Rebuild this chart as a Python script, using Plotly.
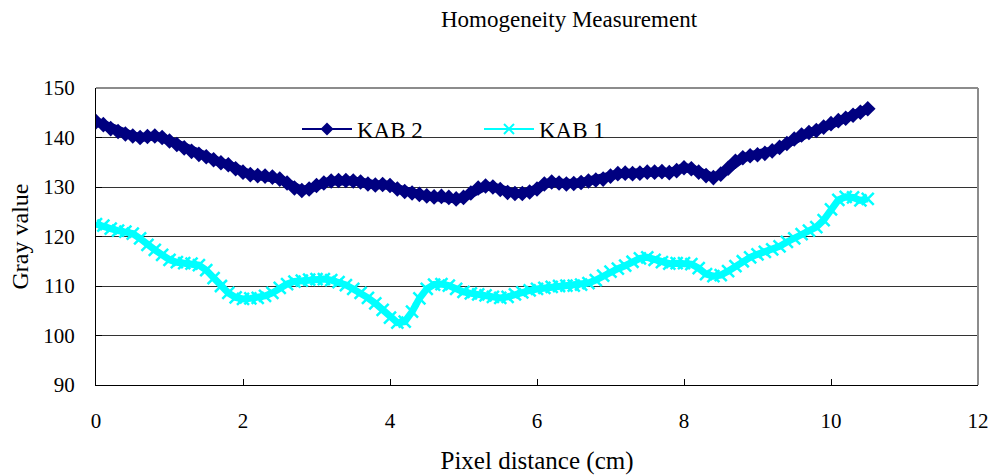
import plotly.graph_objects as go

x_cm = [round(i * 0.1, 1) for i in range(106)]

kab2 = [143.2, 142.6, 141.8, 141.2, 140.7, 140.3, 140.0, 140.2, 140.3, 140.0,
        139.3, 138.6, 137.9, 137.2, 136.6, 136.1, 135.5, 134.9, 134.5, 133.7,
        133.0, 132.5, 132.3, 132.2, 132.0, 131.6, 130.8, 129.8, 129.3, 129.6,
        130.3, 130.8, 131.2, 131.3, 131.3, 131.2, 131.0, 130.6, 130.4, 130.5,
        130.3, 129.6, 129.1, 128.8, 128.5, 128.2, 128.0, 128.1, 127.9, 127.6,
        127.9, 128.8, 129.8, 130.2, 130.0, 129.5, 128.9, 128.7, 128.7, 129.0,
        129.6, 130.6, 131.0, 130.8, 130.6, 130.7, 130.9, 131.2, 131.4, 131.6,
        132.2, 132.7, 132.8, 132.7, 132.8, 133.0, 133.0, 133.1, 132.9, 133.3,
        133.9, 133.7, 133.0, 132.3, 131.9, 132.6, 133.8, 135.2, 135.9, 136.3,
        136.5, 136.8, 137.3, 138.0, 138.8, 139.7, 140.5, 141.0, 141.4, 142.1,
        142.8, 143.4, 143.9, 144.5, 145.1, 145.8]

kab1 = [122.5, 122.2, 121.6, 121.2, 121.0, 120.6, 119.6, 118.3, 117.3, 116.3,
        115.3, 114.8, 114.6, 114.5, 114.2, 113.2, 111.6, 110.0, 108.6, 107.7,
        107.4, 107.5, 107.6, 108.0, 108.6, 109.6, 110.4, 110.9, 111.1, 111.3,
        111.4, 111.4, 111.2, 110.8, 110.2, 109.4, 108.6, 107.6, 106.5, 105.2,
        103.6, 102.6, 102.8, 104.8, 107.5, 109.4, 110.3, 110.4, 110.1, 109.4,
        108.8, 108.5, 108.3, 108.1, 107.8, 107.6, 107.8, 108.3, 108.7, 109.1,
        109.4, 109.6, 109.8, 110.0, 110.1, 110.1, 110.3, 110.6, 111.2, 112.1,
        112.9, 113.5, 114.1, 114.9, 115.6, 115.8, 115.3, 114.8, 114.5, 114.6,
        114.6, 114.4, 113.6, 112.4, 112.0, 112.2, 113.0, 114.0, 115.0, 115.8,
        116.4, 116.9, 117.4, 118.0, 118.9, 119.6, 120.5, 121.2, 121.9, 123.3,
        125.5, 127.4, 128.0, 127.9, 127.3, 127.6]

x_ticks = [0, 2, 4, 6, 8, 10, 12]
y_ticks = [90, 100, 110, 120, 130, 140, 150]

FONT = "Liberation Serif"

fig = go.Figure()
fig.add_trace(go.Scatter(
    x=x_cm, y=kab2, name="KAB 2", mode="lines+markers", showlegend=False,
    line=dict(color="#000080", width=9),
    marker=dict(symbol="diamond", size=12, color="#000080"),
))
fig.add_trace(go.Scatter(
    x=x_cm, y=kab1, name="KAB 1", mode="lines+markers", showlegend=False,
    line=dict(color="#00FFFF", width=7),
    marker=dict(symbol="x-thin", size=12, color="#00FFFF",
                line=dict(color="#00FFFF", width=2.5)),
))
# legend entries with thin lines (as in the reference legend symbols)
fig.add_trace(go.Scatter(
    x=[None], y=[None], name="KAB 2", mode="lines+markers",
    line=dict(color="#000080", width=2),
    marker=dict(symbol="diamond", size=10, color="#000080"),
))
fig.add_trace(go.Scatter(
    x=[None], y=[None], name="KAB 1", mode="lines+markers",
    line=dict(color="#00FFFF", width=2),
    marker=dict(symbol="x-thin", size=10, color="#00FFFF",
                line=dict(color="#00FFFF", width=2)),
))

# white area behind the legend (hides gridline)
fig.add_shape(type="rect", xref="paper", yref="paper",
              x0=(266 - 96) / 882, x1=(642 - 96) / 882,
              y0=(385 - 150) / 297, y1=(385 - 112) / 297,
              fillcolor="white", line=dict(width=0), layer="between")
# gray top and right frame
fig.add_shape(type="line", xref="paper", yref="paper", x0=0, x1=1, y0=1, y1=1,
              line=dict(color="#8c8c8c", width=2))
fig.add_shape(type="line", xref="paper", yref="paper", x0=1, x1=1, y0=0, y1=1,
              line=dict(color="#8c8c8c", width=2))

fig.update_layout(
    width=994, height=475,
    margin=dict(l=96, r=16, t=88, b=90, autoexpand=False),
    paper_bgcolor="white", plot_bgcolor="white",
    font=dict(family=FONT, size=21, color="black"),
    title=dict(text="Homogeneity Measurement", x=569 / 994, xanchor="center",
               y=1 - 19 / 475, yanchor="middle",
               font=dict(family=FONT, size=23, color="black")),
    legend=dict(orientation="h", x=(297 - 96) / 882, xanchor="left",
                y=(385 - 129) / 297, yanchor="middle",
                bgcolor="rgba(0,0,0,0)", font=dict(family=FONT, size=23),
                itemwidth=50, entrywidth=117, entrywidthmode="pixels"),
    xaxis=dict(range=[0, 12], tickvals=x_ticks, showgrid=False, zeroline=False,
               showline=True, linecolor="black", linewidth=1,
               ticks="inside", ticklen=6, tickcolor="black",
               ticklabelstandoff=17, automargin=False,
               tickfont=dict(family=FONT, size=21),
               title=dict(text="Pixel distance (cm)", standoff=22,
                          font=dict(family=FONT, size=25))),
    yaxis=dict(range=[90, 150], tickvals=y_ticks, showgrid=True,
               gridcolor="#333333", gridwidth=1, zeroline=False,
               showline=True, linecolor="black", linewidth=1,
               ticks="inside", ticklen=6, tickcolor="black",
               ticklabelstandoff=16, automargin=False,
               tickfont=dict(family=FONT, size=21),
               title=dict(text="Gray value", standoff=7,
                          font=dict(family=FONT, size=24))),
)

fig.write_html(
    "out.html",
    config={"displayModeBar": False},
    post_script="document.body.style.margin='0';document.body.style.overflow='hidden';",
)
